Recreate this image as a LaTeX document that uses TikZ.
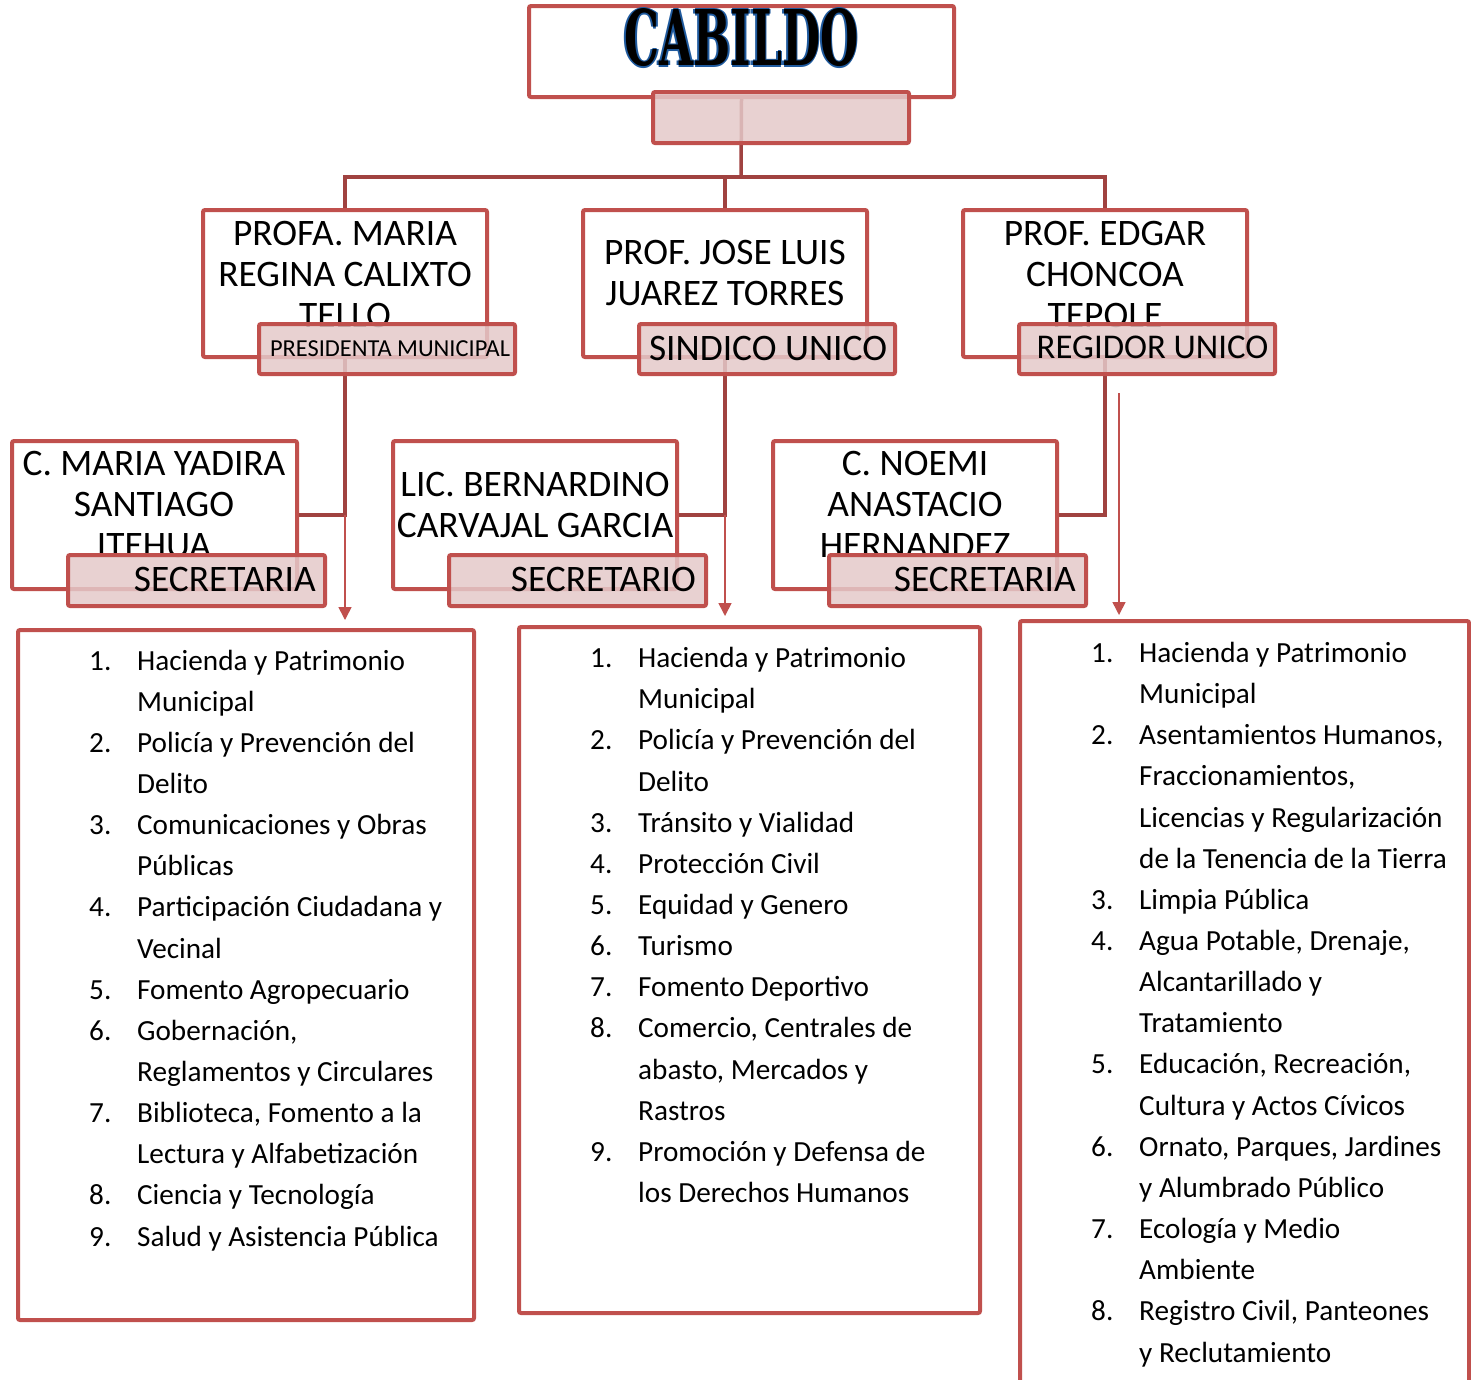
\documentclass[tikz,border=0pt]{standalone}
\usepackage{fontspec}
\setmainfont{Carlito}
\newfontfamily\cabfont{DejaVu Serif}
\usetikzlibrary{arrows.meta}
\definecolor{boxred}{HTML}{C0504D}
\definecolor{connred}{HTML}{A04240}
\definecolor{pinkfill}{HTML}{E4C9C9}
\definecolor{cabblue}{HTML}{1F5A9E}
\newcommand\outlined[1]{\setbox0=\hbox{#1}\leavevmode\rlap{\textcolor{cabblue}{\rlap{\kern-1.6pt\copy0}\rlap{\kern1.6pt\copy0}\rlap{\raise1.6pt\copy0}\rlap{\lower1.6pt\copy0}}}\box0}
\newcommand\itm[2]{\makebox[48pt][l]{#1.}#2}
\newcommand\cnt[1]{\hspace*{48pt}#1}
\begin{document}
\begin{tikzpicture}[x=1pt,y=-1pt,
  wbox/.style={draw=boxred,line width=4pt,fill=white,rounded corners=2pt,inner sep=0pt},
  pbox/.style={draw=boxred,line width=4pt,fill=pinkfill,fill opacity=0.85,rounded corners=2pt,inner sep=0pt},
  conn/.style={draw=connred,line width=3.5pt},
  arr/.style={draw=boxred,line width=1.6pt,-{Triangle[width=13pt,length=13pt]}},
  nametxt/.style={align=center,inner sep=0pt,anchor=base,font=\fontsize{37.4}{41}\selectfont},
  roletxt/.style={inner sep=0pt,font=\fontsize{37.4}{41}\selectfont},
  lsttxt/.style={align=left,inner sep=0pt,anchor=base west,font=\fontsize{29.2}{41.15}\selectfont}]
\clip (0,0) rectangle (1471,1379);
\fill[white] (0,0) rectangle (1471,1379);
% top boxes
\node[wbox,minimum width=425pt,minimum height=91pt] (cab) at (741.5,51.5) {};
\node[inner sep=0pt] (cabtxt) at (741.5,38) {\outlined{\resizebox{234pt}{57pt}{\cabfont\bfseries CABILDO}}};
% connectors level 1
\coordinate (busc) at (741,177);
\draw[conn] (cab.south) -- (busc);
\node[wbox,minimum width=284pt,minimum height=147pt] (p1) at (345,283.5) {};
\node[wbox,minimum width=284pt,minimum height=147pt] (p2) at (725,283.5) {};
\node[wbox,minimum width=284pt,minimum height=147pt] (p3) at (1105,283.5) {};
\node[wbox,minimum width=285pt,minimum height=148pt] (s1) at (154.5,515) {};
\node[wbox,minimum width=284pt,minimum height=148pt] (s2) at (535,515) {};
\node[wbox,minimum width=284pt,minimum height=148pt] (s3) at (915,515) {};
\draw[conn] (p1.north) |- (busc) -| (p3.north);
\draw[conn] (p2.north) -- (p2.north |- busc);
\draw[conn] (p1.south) |- (s1.east);
\draw[conn] (p2.south) |- (s2.east);
\draw[conn] (p3.south) |- (s3.east);
\node[pbox,minimum width=256pt,minimum height=51pt] (cablab) at (781,117.5) {};
% names (anchored at the baseline of the last line)
\node[nametxt] (p1txt) at (345,327) {PROFA. MARIA\\REGINA CALIXTO\\TELLO};
\node[nametxt] (p2txt) at (725,305) {PROF. JOSE LUIS\\JUAREZ TORRES};
\node[nametxt] (p3txt) at (1105,327) {PROF. EDGAR\\CHONCOA\\TEPOLE};
\node[nametxt] (s1txt) at (154,557) {C. MARIA YADIRA\\SANTIAGO\\ITEHUA};
\node[nametxt] (s2txt) at (535,537) {LIC. BERNARDINO\\CARVAJAL GARCIA};
\node[nametxt] (s3txt) at (915,557) {C. NOEMI\\ANASTACIO\\HERNANDEZ};
% role labels
\node[pbox,minimum width=256pt,minimum height=50pt] (l1) at (387,349) {};
\node[pbox,minimum width=256pt,minimum height=50pt] (l2) at (767,349) {};
\node[pbox,minimum width=256pt,minimum height=50pt] (l3) at (1147,349) {};
\node[pbox,minimum width=257pt,minimum height=51pt] (t1) at (196.5,580.5) {};
\node[pbox,minimum width=257pt,minimum height=51pt] (t2) at (577.5,580.5) {};
\node[pbox,minimum width=257pt,minimum height=51pt] (t3) at (957.5,580.5) {};
\node[roletxt,anchor=base,font=\fontsize{24.4}{28}\selectfont] (l1txt) at (390,356) {PRESIDENTA MUNICIPAL};
\node[roletxt,anchor=base] (l2txt) at (768,360) {SINDICO UNICO};
\node[roletxt,anchor=base,font=\fontsize{34.7}{41}\selectfont] (l3txt) at (1152.5,358.5) {REGIDOR UNICO};
\node[roletxt,anchor=base east] (t1txt) at (316,591) {SECRETARIA};
\node[roletxt,anchor=base east] (t2txt) at (696,591) {SECRETARIO};
\node[roletxt,anchor=base east] (t3txt) at (1076,591) {SECRETARIA};
% list boxes
\node[wbox,minimum width=456pt,minimum height=690pt] (lb1) at (246,975) {};
\node[wbox,minimum width=461pt,minimum height=686pt] (lb2) at (749.5,970) {};
\node[wbox,minimum width=449pt,minimum height=809pt] (lb3) at (1244.5,1025.5) {};
% arrows
\coordinate (ra) at (1119,393);
\draw[arr,shorten >=8pt] (p1.south |- s1.east) -- (p1.south |- lb1.north);
\draw[arr,shorten >=9pt] (p2.south |- s2.east) -- (p2.south |- lb2.north);
\draw[arr,shorten >=4pt] (ra) -- (ra |- lb3.north);
% lists (anchored at the baseline of the last line)
\node[lsttxt] (list1) at (89,1246.1) {\itm{1}{Hacienda y Patrimonio}\\\cnt{Municipal}\\
\itm{2}{Policía y Prevención del}\\\cnt{Delito}\\
\itm{3}{Comunicaciones y Obras}\\\cnt{Públicas}\\
\itm{4}{Participación Ciudadana y}\\\cnt{Vecinal}\\
\itm{5}{Fomento Agropecuario}\\
\itm{6}{Gobernación,}\\\cnt{Reglamentos y Circulares}\\
\itm{7}{Biblioteca, Fomento a la}\\\cnt{Lectura y Alfabetización}\\
\itm{8}{Ciencia y Tecnología}\\
\itm{9}{Salud y Asistencia Pública}};
\node[lsttxt] (list2) at (590,1202.5) {\itm{1}{Hacienda y Patrimonio}\\\cnt{Municipal}\\
\itm{2}{Policía y Prevención del}\\\cnt{Delito}\\
\itm{3}{Tránsito y Vialidad}\\
\itm{4}{Protección Civil}\\
\itm{5}{Equidad y Genero}\\
\itm{6}{Turismo}\\
\itm{7}{Fomento Deportivo}\\
\itm{8}{Comercio, Centrales de}\\\cnt{abasto, Mercados y}\\\cnt{Rastros}\\
\itm{9}{Promoción y Defensa de}\\\cnt{los Derechos Humanos}};
\node[lsttxt] (list3) at (1091,1362) {\itm{1}{Hacienda y Patrimonio}\\\cnt{Municipal}\\
\itm{2}{Asentamientos Humanos,}\\\cnt{Fraccionamientos,}\\\cnt{Licencias y Regularización}\\\cnt{de la Tenencia de la Tierra}\\
\itm{3}{Limpia Pública}\\
\itm{4}{Agua Potable, Drenaje,}\\\cnt{Alcantarillado y}\\\cnt{Tratamiento}\\
\itm{5}{Educación, Recreación,}\\\cnt{Cultura y Actos Cívicos}\\
\itm{6}{Ornato, Parques, Jardines}\\\cnt{y Alumbrado Público}\\
\itm{7}{Ecología y Medio}\\\cnt{Ambiente}\\
\itm{8}{Registro Civil, Panteones}\\\cnt{y Reclutamiento}};
\end{tikzpicture}
\end{document}
